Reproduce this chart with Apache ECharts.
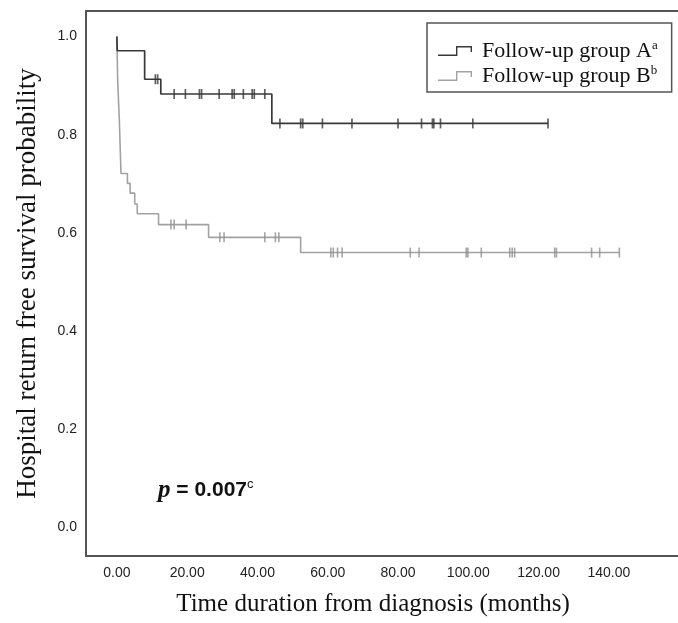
<!DOCTYPE html>
<html>
<head>
<meta charset="utf-8">
<script src="https://cdn.jsdelivr.net/npm/echarts@6/dist/echarts.min.js"></script>
<style>html,body{margin:0;padding:0;background:#fff}#c{width:678px;height:623px}</style>
</head>
<body>
<div id="c"></div>
<script>
// ---- Data (months, survival probability) ----
const xTickValues = [0, 20, 40, 60, 80, 100, 120, 140];
const yTickValues = [0, 0.2, 0.4, 0.6, 0.8, 1.0];

const groupA_eventTimes = [0.1, 7.9, 12.5, 44.1];
const groupA_survival   = [0.971, 0.913, 0.883, 0.823];
const groupA_censorTimes = [10.95, 11.6, 16.3, 19.5, 23.5, 24.1, 29.1, 32.8, 33.4, 36.0, 38.5, 39.1, 42.1,
  46.4, 52.3, 52.9, 58.5, 66.9, 80.0, 86.7, 89.8, 90.2, 92.1, 101.3, 122.7];

const groupB_eventTimes = [0.22, 0.7, 1.17, 3.0, 3.77, 5.08, 5.8, 11.86, 26.1, 52.3];
const groupB_survival   = [0.912, 0.830, 0.721, 0.701, 0.681, 0.659, 0.639, 0.617, 0.591, 0.560];
const groupB_censorTimes = [15.4, 16.3, 19.7, 29.3, 30.5, 42.1, 45.1, 46.1, 60.9, 61.6, 62.8, 64.1,
  83.5, 86.0, 99.4, 99.9, 103.7, 111.8, 112.5, 113.2, 124.6, 125.1, 135.1, 137.4, 143.0];

const seriesNames = ['Follow-up group A', 'Follow-up group B'];
const pValueText = '0.007';

// ---- helpers building the step curves from the arrays ----
function survAt(t, times, surv) {
  let s = 1;
  for (let i = 0; i < times.length; i++) if (times[i] <= t) s = surv[i];
  return s;
}
function stepPoints(times, surv, censors) {
  const pts = [[0, 1]];
  let prev = 1;
  for (let i = 0; i < times.length; i++) {
    pts.push([times[i], prev]);
    pts.push([times[i], surv[i]]);
    prev = surv[i];
  }
  const end = Math.max(censors[censors.length - 1], times[times.length - 1]);
  pts.push([end, prev]);
  return pts;
}
function censorPoints(censors, times, surv) {
  return censors.map(t => [t, survAt(t, times, surv)]);
}

const colA = '#383838', colB = '#a2a2a2', frameCol = '#555';
const legendIcon = 'path://M0,8.6 L18,8.6 L18,0 L34,0 L34,6 L32.6,6 L32.6,1.4 L19.4,1.4 L19.4,10 L0,10 Z';
const X_MIN = -8.787, X_MAX = 159.69;

const chart = echarts.init(document.getElementById('c'));
chart.setOption({
  animation: false,
  backgroundColor: '#fff',
  grid: { left: 86, right: -12, top: 11, bottom: 67, show: false, containLabel: false },
  xAxis: [{
    type: 'value', min: X_MIN, max: X_MAX, position: 'bottom',
    axisLine: { show: true, onZero: false, lineStyle: { color: frameCol, width: 2 } },
    axisTick: { show: false }, splitLine: { show: false },
    axisLabel: {
      customValues: xTickValues, margin: 10, color: '#222', fontFamily: 'Liberation Sans', fontSize: 14,
      formatter: v => v.toFixed(2)
    },
    name: 'Time duration from diagnosis (months)', nameLocation: 'middle', nameGap: 36,
    nameTextStyle: { fontFamily: 'Liberation Serif', fontSize: 25, color: '#111', padding: [0, 18, 0, 0] }
  }, {
    type: 'value', min: X_MIN, max: X_MAX, position: 'top',
    axisLine: { show: true, onZero: false, lineStyle: { color: frameCol, width: 2 } },
    axisTick: { show: false }, splitLine: { show: false }, axisLabel: { show: false }
  }],
  yAxis: {
    type: 'value', min: -0.058, max: 1.052,
    axisLine: { show: true, onZero: false, lineStyle: { color: frameCol, width: 2 } },
    axisTick: { show: false }, splitLine: { show: false },
    axisLabel: {
      customValues: yTickValues, margin: 9, color: '#222', fontFamily: 'Liberation Sans', fontSize: 14,
      formatter: v => v.toFixed(1)
    },
    name: 'Hospital return free survival probability', nameLocation: 'middle', nameGap: 45, nameRotate: 90,
    nameTextStyle: { fontFamily: 'Liberation Serif', fontSize: 27, color: '#111' }
  },
  legend: {
    data: seriesNames, orient: 'vertical', left: 427, top: 23,
    padding: [16, 14, 5, 11], itemGap: 2, itemWidth: 34, itemHeight: 10,
    borderColor: frameCol, borderWidth: 1.5, icon: legendIcon,
    formatter: n => n === seriesNames[0] ? '{t|' + n + '}{s|a}' : '{t|' + n + '}{s|b}',
    textStyle: {
      rich: {
        t: { fontFamily: 'Liberation Serif', fontSize: 22, lineHeight: 24, color: '#111', padding: [0, 0, 0, 5] },
        s: { fontFamily: 'Liberation Serif', fontSize: 13, verticalAlign: 'top', lineHeight: 14, color: '#111' }
      }
    }
  },
  graphic: [{
    type: 'text', left: 158, top: 478,
    style: {
      text: '{p|p}{e| = ' + pValueText + '}{c|c}',
      rich: {
        p: { fontFamily: 'Liberation Serif', fontStyle: 'italic', fontWeight: 'bold', fontSize: 25, fill: '#111' },
        e: { fontFamily: 'Liberation Sans', fontWeight: 'bold', fontSize: 21, fill: '#111' },
        c: { fontFamily: 'Liberation Sans', fontSize: 13, verticalAlign: 'top', fill: '#111' }
      }
    }
  }],
  series: [
    { name: seriesNames[0], type: 'line', showSymbol: false, data: stepPoints(groupA_eventTimes, groupA_survival, groupA_censorTimes),
      lineStyle: { color: colA, width: 1.7 }, itemStyle: { color: colA }, z: 3 },
    { name: seriesNames[1], type: 'line', showSymbol: false, data: stepPoints(groupB_eventTimes, groupB_survival, groupB_censorTimes),
      lineStyle: { color: colB, width: 1.6 }, itemStyle: { color: colB }, z: 2 },
    { name: 'censA', type: 'scatter', symbol: 'rect', symbolSize: [1.7, 10], data: censorPoints(groupA_censorTimes, groupA_eventTimes, groupA_survival),
      itemStyle: { color: colA }, z: 4 },
    { name: 'censB', type: 'scatter', symbol: 'rect', symbolSize: [1.6, 10], data: censorPoints(groupB_censorTimes, groupB_eventTimes, groupB_survival),
      itemStyle: { color: '#909090' }, z: 4 }
  ]
});
</script>
</body>
</html>
